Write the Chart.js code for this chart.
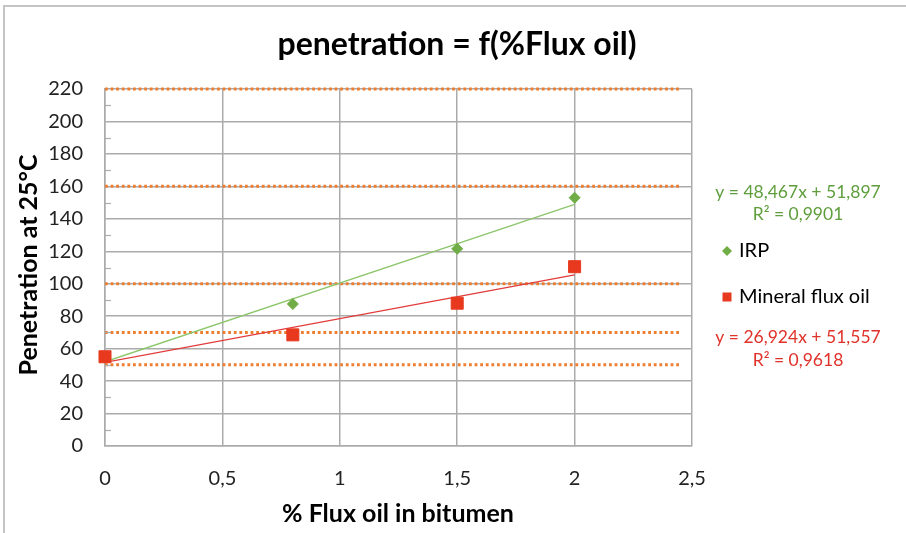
<!DOCTYPE html>
<html>
<head>
<meta charset="utf-8">
<script src="https://cdn.jsdelivr.net/npm/chart.js@4.4.1/dist/chart.umd.min.js"></script>
<style>
  html, body { margin: 0; padding: 0; background: #ffffff; }
  #wrap { width: 906px; height: 533px; position: relative; }
</style>
</head>
<body>
<div id="wrap"><canvas id="penChart" width="906" height="533"></canvas></div>
<script>
// Measured penetration values (x = % flux oil in bitumen)
const fluxPercent = [0, 0.8, 1.5, 2];
const irpValues = [55, 87.5, 121.5, 153];
const mineralValues = [55, 68.5, 88, 110.5];

// Excel trendlines, as printed on the chart
const irpTrend = { slope: 48.467, intercept: 51.897, r2: '0,9901', label: 'y = 48,467x + 51,897' };
const mineralTrend = { slope: 26.924, intercept: 51.557, r2: '0,9618', label: 'y = 26,924x + 51,557' };

// Dotted reference levels
const refLevels = [50, 70, 100, 160, 220];
const refRange = [0, 2.45];

const xTicks = [0, 0.5, 1, 1.5, 2, 2.5];
const yMax = 220;

const GREEN = '#70AD47';
const GREEN_TEXT = '#5E9E3C';
const GREEN_LINE = '#8CC66A';
const RED = '#E8391F';
const RED_TEXT = '#E0322A';
const RED_LINE = '#E23B3B';
const ORANGE = '#ED7D31';
const GRID = '#ABABAB';
const FONT = 'Lato, "Open Sans", sans-serif';

function toPoints(xs, ys) {
    return xs.map((x, i) => ({ x: x, y: ys[i] }));
}

function trendPoints(t) {
    const x0 = fluxPercent[0];
    const x1 = fluxPercent[fluxPercent.length - 1];
    return [{ x: x0, y: t.slope * x0 + t.intercept }, { x: x1, y: t.slope * x1 + t.intercept }];
}

const refDatasets = refLevels.map(v => ({
    type: 'line',
    label: 'ref ' + v,
    data: refRange.map(x => ({ x: x, y: v })),
    borderColor: ORANGE,
    borderWidth: 3,
    borderDash: [2.8, 2.8],
    borderCapStyle: 'butt',
    pointRadius: 0,
    fill: false,
    clip: false,
    order: 3
}));

// Titles, legend and trendline labels drawn straight onto the canvas
const decorPlugin = {
    id: 'decor',
    beforeDraw(chart) {
        const ctx = chart.ctx;
        ctx.save();
        ctx.fillStyle = '#ffffff';
        ctx.fillRect(0, 0, chart.width, chart.height);
        ctx.strokeStyle = '#C4C4C4';
        ctx.lineWidth = 2;
        ctx.beginPath();
        ctx.moveTo(4, chart.height);
        ctx.lineTo(4, 6);
        ctx.lineTo(chart.width, 6);
        ctx.stroke();
        ctx.restore();
    },
    afterDatasetsDraw(chart) {
        const ctx = chart.ctx;
        const y = chart.scales.y;
        const left = chart.chartArea.left;
        ctx.save();
        // minor ticks on the value axis
        ctx.strokeStyle = GRID;
        ctx.lineWidth = 1.2;
        for (let v = 10; v < yMax; v += 20) {
            const py = Math.round(y.getPixelForValue(v)) + 0.5;
            ctx.beginPath();
            ctx.moveTo(left, py);
            ctx.lineTo(left + 6, py);
            ctx.stroke();
        }

        ctx.fillStyle = '#000000';
        ctx.textAlign = 'center';
        ctx.textBaseline = 'middle';
        ctx.font = 'bold 32px ' + FONT;
        ctx.fillText('penetration = f(%Flux oil)', 457, 45);

        ctx.font = 'bold 25px ' + FONT;
        ctx.fillText('% Flux oil in bitumen', 398, 514);
        ctx.save();
        ctx.translate(29, 265);
        ctx.rotate(-Math.PI / 2);
        ctx.fillText('Penetration at 25\u00B0C', 0, 0);
        ctx.restore();

        // trendline labels
        ctx.font = '17.5px ' + FONT;
        ctx.fillStyle = GREEN_TEXT;
        ctx.fillText(irpTrend.label, 798, 192);
        ctx.fillText('R\u00B2 = ' + irpTrend.r2, 798, 214);
        ctx.fillStyle = RED_TEXT;
        ctx.fillText(mineralTrend.label, 798, 337);
        ctx.fillText('R\u00B2 = ' + mineralTrend.r2, 798, 360);

        // legend
        ctx.fillStyle = GREEN;
        ctx.beginPath();
        ctx.moveTo(727, 246);
        ctx.lineTo(732, 251);
        ctx.lineTo(727, 256);
        ctx.lineTo(722, 251);
        ctx.closePath();
        ctx.fill();
        ctx.fillStyle = RED;
        ctx.fillRect(722.5, 292.5, 9, 9);

        ctx.fillStyle = '#000000';
        ctx.textAlign = 'left';
        ctx.font = '20px ' + FONT;
        ctx.fillText('IRP', 739, 251);
        ctx.fillText('Mineral flux oil', 739, 297);
        ctx.restore();
    }
};

new Chart(document.getElementById('penChart'), {
    type: 'scatter',
    data: {
        datasets: [
            {
                label: 'Mineral flux oil',
                data: toPoints(fluxPercent, mineralValues),
                backgroundColor: RED,
                borderColor: RED,
                borderWidth: 1,
                pointStyle: 'rect',
                pointRadius: 8.5,
                clip: false,
                order: 0
            },
            {
                label: 'IRP',
                data: toPoints(fluxPercent, irpValues),
                backgroundColor: GREEN,
                borderColor: GREEN,
                borderWidth: 1,
                pointStyle: 'rectRot',
                pointRadius: 5.5,
                clip: false,
                order: 1
            },
            {
                type: 'line',
                label: 'IRP trend',
                data: trendPoints(irpTrend),
                borderColor: GREEN_LINE,
                borderWidth: 1.3,
                pointRadius: 0,
                fill: false,
                order: 2
            },
            {
                type: 'line',
                label: 'Mineral trend',
                data: trendPoints(mineralTrend),
                borderColor: RED_LINE,
                borderWidth: 1.3,
                pointRadius: 0,
                fill: false,
                order: 2
            },
            ...refDatasets
        ]
    },
    options: {
        responsive: false,
        animation: false,
        events: [],
        layout: { padding: { top: 89, left: 0, right: 214, bottom: 0 } },
        plugins: {
            legend: { display: false },
            tooltip: { enabled: false }
        },
        scales: {
            x: {
                type: 'linear',
                min: 0,
                max: 2.5,
                afterBuildTicks(scale) {
                    scale.ticks = xTicks.map(v => ({ value: v }));
                },
                afterFit(scale) { scale.height = 87; },
                grid: { color: GRID, lineWidth: 1.5, drawTicks: false },
                border: { color: GRID, width: 1.5 },
                ticks: {
                    padding: 21,
                    color: '#222222',
                    font: { family: FONT, size: 20 },
                    callback: v => String(v).replace('.', ',')
                }
            },
            y: {
                type: 'linear',
                min: 0,
                max: yMax,
                afterFit(scale) { scale.width = 105; },
                grid: { color: GRID, lineWidth: 1.5, drawTicks: false },
                border: { color: GRID, width: 1.5 },
                ticks: {
                    stepSize: 20,
                    padding: 22,
                    color: '#222222',
                    font: { family: FONT, size: 20 }
                }
            }
        }
    },
    plugins: [decorPlugin]
});
</script>
</body>
</html>
